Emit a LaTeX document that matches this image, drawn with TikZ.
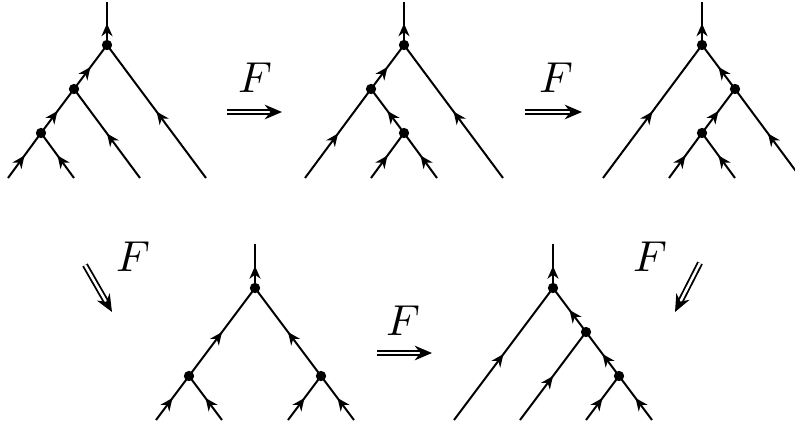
\documentclass[tikz,border=0pt]{standalone}
\usetikzlibrary{arrows.meta,decorations.markings}
\tikzset{
  tedge/.style={line width=0.6pt, postaction={decorate},
    decoration={markings, mark=at position 0.5 with {\arrow{Stealth[length=3.8pt,width=3.3pt,inset=1.2pt]}}}},
  vtx/.style={circle, fill=black, inner sep=0pt, minimum size=3.1pt},
  fmap/.style={double, double distance=0.75pt, line width=0.55pt, -{Stealth[length=5.2pt,width=4.4pt]}},
  flabel/.style={inner sep=0pt}
}
\newcommand{\bigF}{\scalebox{1.3}{$F$}}
\begin{document}
\begin{tikzpicture}[x=0.3pt,y=-0.3pt]
\useasboundingbox (0,0) rectangle (795,430);
% ---------- Tree 1 ----------
\coordinate (t1top) at (107,2);
\coordinate (t1r) at (107,45);
\coordinate (t1a) at (74,89);
\coordinate (t1b) at (41,133);
\coordinate (t1l1) at (8,178);
\coordinate (t1l2) at (74,178);
\coordinate (t1l3) at (140,178);
\coordinate (t1l4) at (206,178);
\draw[tedge] (t1l1) -- (t1b);
\draw[tedge] (t1l2) -- (t1b);
\draw[tedge] (t1b) -- (t1a);
\draw[tedge] (t1l3) -- (t1a);
\draw[tedge] (t1a) -- (t1r);
\draw[tedge] (t1l4) -- (t1r);
\draw[tedge] (t1r) -- (t1top);
\foreach \v in {t1r,t1a,t1b} \node[vtx] at (\v) {};
% ---------- Tree 2 ----------
\coordinate (t2top) at (404,2);
\coordinate (t2r) at (404,45);
\coordinate (t2a) at (371,89);
\coordinate (t2b) at (404,133);
\coordinate (t2l1) at (305,178);
\coordinate (t2l2) at (371,178);
\coordinate (t2l3) at (437,178);
\coordinate (t2l4) at (503,178);
\draw[tedge] (t2l1) -- (t2a);
\draw[tedge] (t2l2) -- (t2b);
\draw[tedge] (t2l3) -- (t2b);
\draw[tedge] (t2b) -- (t2a);
\draw[tedge] (t2a) -- (t2r);
\draw[tedge] (t2l4) -- (t2r);
\draw[tedge] (t2r) -- (t2top);
\foreach \v in {t2r,t2a,t2b} \node[vtx] at (\v) {};
% ---------- Tree 3 ----------
\coordinate (t3top) at (702,2);
\coordinate (t3r) at (702,45);
\coordinate (t3a) at (735,89);
\coordinate (t3b) at (702,133);
\coordinate (t3l1) at (603,178);
\coordinate (t3l2) at (669,178);
\coordinate (t3l3) at (735,178);
\coordinate (t3l4) at (801,178);
\draw[tedge] (t3l1) -- (t3r);
\draw[tedge] (t3l2) -- (t3b);
\draw[tedge] (t3l3) -- (t3b);
\draw[tedge] (t3b) -- (t3a);
\draw[tedge] (t3l4) -- (t3a);
\draw[tedge] (t3a) -- (t3r);
\draw[tedge] (t3r) -- (t3top);
\foreach \v in {t3r,t3a,t3b} \node[vtx] at (\v) {};
% ---------- Tree 4 ----------
\coordinate (t4top) at (255,244);
\coordinate (t4r) at (255,288);
\coordinate (t4a) at (189,376);
\coordinate (t4b) at (321,376);
\coordinate (t4l1) at (156,420);
\coordinate (t4l2) at (222,420);
\coordinate (t4l3) at (288,420);
\coordinate (t4l4) at (354,420);
\draw[tedge] (t4l1) -- (t4a);
\draw[tedge] (t4l2) -- (t4a);
\draw[tedge] (t4l3) -- (t4b);
\draw[tedge] (t4l4) -- (t4b);
\draw[tedge] (t4a) -- (t4r);
\draw[tedge] (t4b) -- (t4r);
\draw[tedge] (t4r) -- (t4top);
\foreach \v in {t4r,t4a,t4b} \node[vtx] at (\v) {};
% ---------- Tree 5 ----------
\coordinate (t5top) at (553,244);
\coordinate (t5r) at (553,288);
\coordinate (t5a) at (586,332);
\coordinate (t5b) at (619,376);
\coordinate (t5l1) at (454,420);
\coordinate (t5l2) at (520,420);
\coordinate (t5l3) at (586,420);
\coordinate (t5l4) at (652,420);
\draw[tedge] (t5l1) -- (t5r);
\draw[tedge] (t5l2) -- (t5a);
\draw[tedge] (t5l3) -- (t5b);
\draw[tedge] (t5l4) -- (t5b);
\draw[tedge] (t5b) -- (t5a);
\draw[tedge] (t5a) -- (t5r);
\draw[tedge] (t5r) -- (t5top);
\foreach \v in {t5r,t5a,t5b} \node[vtx] at (\v) {};
% ---------- F maps ----------
\coordinate (m1s) at (227,112); \coordinate (m1e) at (282,112);
\coordinate (m2s) at (525,112); \coordinate (m2e) at (582,112);
\coordinate (m3s) at (85,265);  \coordinate (m3e) at (112,312);
\coordinate (m4s) at (700,263); \coordinate (m4e) at (675,312);
\coordinate (m5s) at (377,353); \coordinate (m5e) at (432,353);
\draw[fmap] (m1s) -- (m1e);
\draw[fmap] (m2s) -- (m2e);
\draw[fmap] (m3s) -- (m3e);
\draw[fmap] (m4s) -- (m4e);
\draw[fmap] (m5s) -- (m5e);
\node[flabel] (f1) at (255,78) {\bigF};
\node[flabel] (f2) at (556,78) {\bigF};
\node[flabel] (f3) at (133,257) {\bigF};
\node[flabel] (f4) at (650,257) {\bigF};
\node[flabel] (f5) at (403,321) {\bigF};
\end{tikzpicture}
\end{document}
